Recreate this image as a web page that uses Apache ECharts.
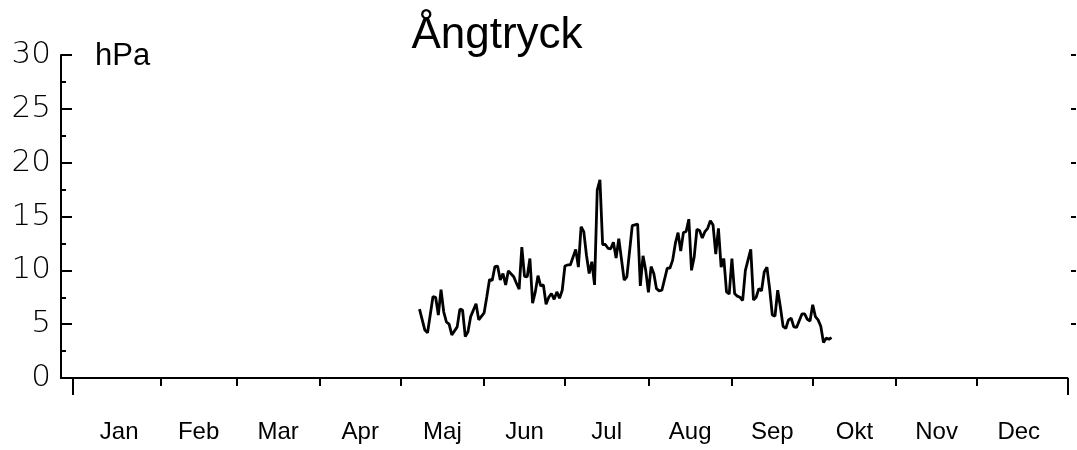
<!DOCTYPE html>
<html><head><meta charset="utf-8">
<script src="https://cdn.jsdelivr.net/npm/echarts@6/dist/echarts.min.js"></script>
<style>html,body{margin:0;padding:0;background:#fff}#c{width:1077px;height:450px}</style>
</head><body><div id="c"></div>
<script>
const monthNames = ['Jan','Feb','Mar','Apr','Maj','Jun','Jul','Aug','Sep','Okt','Nov','Dec'];
const monthStarts = [0,31,59,90,120,151,181,212,243,273,304,334,365];
const yTickValues = [0,5,10,15,20,25,30];
const rightTickValues = [5,10,15,20,25,30];
const days = [127,129,130,132,133,134,135,136,137,138,139,141,142,143,144,145,146,148,149,151,152,153,154,155,156,157,158,159,160,162,163,164,165,166,167,168,169,170,171,172,173,174,175,176,177,178,179,180,181,182,183,185,186,187,188,189,190,191,192,193,194,195,196,197,198,199,200,201,203,204,206,208,209,210,211,212,213,214,215,216,217,219,220,221,222,223,224,225,226,227,228,229,230,231,232,233,234,235,236,237,238,239,240,241,242,243,244,245,246,247,248,250,251,252,253,254,255,256,257,258,259,260,261,262,263,264,265,266,267,269,270,271,272,273,274,275,276,277,278,279,280];
const vapour = [6.4,4.45,4.2,7.55,7.5,5.85,8.2,6.15,5.2,5.0,4.0,4.75,6.4,6.3,3.85,4.3,5.7,6.9,5.4,6.05,7.55,9.15,9.05,10.35,10.4,9.1,9.7,8.65,9.95,9.4,8.8,8.25,12.15,9.45,9.4,11.1,6.95,8.0,9.5,8.55,8.65,6.85,7.5,7.85,7.3,8.0,7.4,8.15,10.4,10.5,10.5,11.95,10.3,14.05,13.6,11.4,9.7,10.8,8.65,17.45,18.4,12.4,12.4,12.05,12.0,12.6,11.15,12.95,9.1,9.4,14.15,14.3,8.55,11.35,10.0,7.95,10.35,9.7,8.3,8.1,8.15,10.2,10.2,10.95,12.5,13.5,11.8,13.5,13.6,14.75,10.0,11.25,13.8,13.7,13.0,13.6,13.9,14.6,14.2,11.5,13.9,10.3,11.1,8.0,7.8,11.1,7.85,7.6,7.5,7.2,10.0,11.95,7.25,7.5,8.3,8.1,9.85,10.3,8.3,5.85,5.75,8.15,6.6,4.8,4.6,5.4,5.55,4.75,4.7,5.95,5.95,5.45,5.3,6.8,5.7,5.4,4.8,3.3,3.7,3.6,3.75];

const monthMids = monthNames.map((m,i)=>(monthStarts[i]+monthStarts[i+1])/2);
const XMIN = -6.1, XMAX = 367.6;
const font = 'Liberation Sans, Arial, sans-serif';
const chart = echarts.init(document.getElementById('c'), null, {renderer:'canvas'});
chart.setOption({
  animation:false,
  backgroundColor:'#fff',
  title:[
    {text:'Ångtryck', left:492, top:9, textAlign:'center', textStyle:{fontFamily:font, fontSize:44, fontWeight:'normal', color:'#000'}},
    {text:'hPa', left:90, top:36, textStyle:{fontFamily:font, fontSize:31, fontWeight:'normal', color:'#000'}}
  ],
  grid:{left:61, right:9.5, top:55, bottom:72, containLabel:false},
  xAxis:[{
    type:'value', min:XMIN, max:XMAX,
    axisLine:{show:true, onZero:false, lineStyle:{color:'#000', width:2}},
    axisTick:{show:true, customValues:monthStarts.slice(1,12), length:8, lineStyle:{color:'#000', width:2}},
    axisLabel:{show:true, customValues:monthMids, margin:42, fontFamily:font, fontSize:24, color:'#000',
      formatter:function(v){const i=monthMids.indexOf(v);return i>=0?monthNames[i]:'';}},
    splitLine:{show:false}
  },{
    type:'value', min:XMIN, max:XMAX, position:'bottom',
    axisLine:{show:false, onZero:false},
    axisTick:{show:true, customValues:[-1.7, XMAX], length:17, lineStyle:{color:'#000', width:2}},
    axisLabel:{show:false}, splitLine:{show:false}
  }],
  yAxis:[{
    type:'value', min:0, max:30, interval:5,
    axisLine:{show:true, onZero:false, lineStyle:{color:'#000', width:2}},
    axisTick:{show:true, inside:true, length:11, lineStyle:{color:'#000', width:2}},
    minorTick:{show:true, splitNumber:2, length:5, lineStyle:{color:'#000', width:2}},
    axisLabel:{margin:10, fontFamily:'DejaVu Sans, sans-serif', fontWeight:200, fontSize:31, color:'#000'},
    splitLine:{show:false}
  },{
    type:'value', min:0, max:30, position:'right', offset:3.5,
    axisLine:{show:false, onZero:false},
    axisTick:{show:true, customValues:rightTickValues, length:5, lineStyle:{color:'#000', width:2}},
    axisLabel:{show:false}, splitLine:{show:false}
  }],
  series:[{
    type:'line', xAxisIndex:0, yAxisIndex:0,
    data: days.map((d,i)=>[d, vapour[i]]),
    showSymbol:false, symbol:'none',
    lineStyle:{color:'#000', width:2.8}
  }]
});
</script></body></html>
